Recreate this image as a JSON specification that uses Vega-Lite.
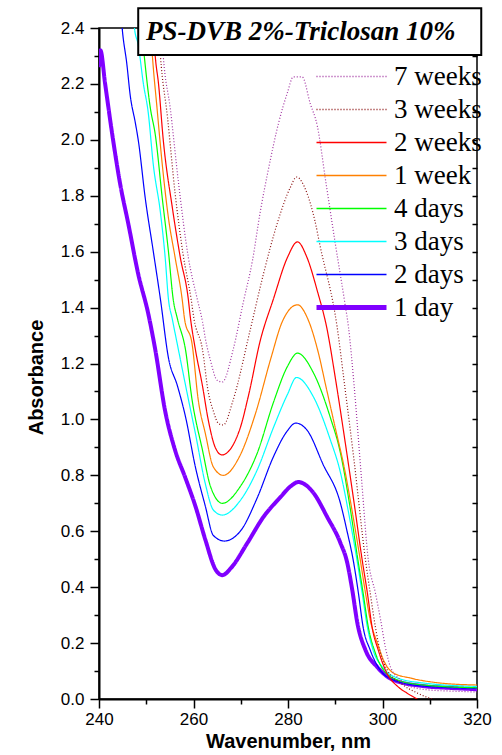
{
  "$schema": "https://vega.github.io/schema/vega-lite/v6.json",
  "width": 378,
  "height": 671,
  "autosize": "none",
  "padding": {"left": 99, "top": 28, "right": 25, "bottom": 56},
  "background": "white",
  "config": {
    "view": {"stroke": "black", "strokeWidth": 1.5},
    "axis": {"grid": false, "domainColor": "black", "tickColor": "black", "labelColor": "black", "titleColor": "black", "labelFont": "Liberation Sans", "titleFont": "Liberation Sans", "labelFontSize": 17, "titleFontSize": 20, "titleFontWeight": "bold", "domainWidth": 2, "tickWidth": 1.5}
  },
  "datasets": {
    "spectra": [
      {"series":"1 day","wavenumber":240.0,"absorbance":2.26},{"series":"1 day","wavenumber":240.3,"absorbance":2.32},{"series":"1 day","wavenumber":241.3,"absorbance":2.20},{"series":"1 day","wavenumber":242.8,"absorbance":2.02},{"series":"1 day","wavenumber":244.5,"absorbance":1.84},{"series":"1 day","wavenumber":246.2,"absorbance":1.70},{"series":"1 day","wavenumber":248.3,"absorbance":1.52},{"series":"1 day","wavenumber":250.4,"absorbance":1.38},{"series":"1 day","wavenumber":251.9,"absorbance":1.25},{"series":"1 day","wavenumber":254.0,"absorbance":1.03},{"series":"1 day","wavenumber":256.1,"absorbance":0.89},{"series":"1 day","wavenumber":258.3,"absorbance":0.79},{"series":"1 day","wavenumber":260.4,"absorbance":0.69},{"series":"1 day","wavenumber":262.5,"absorbance":0.57},{"series":"1 day","wavenumber":264.6,"absorbance":0.465},{"series":"1 day","wavenumber":266.1,"absorbance":0.443},{"series":"1 day","wavenumber":268.0,"absorbance":0.47},{"series":"1 day","wavenumber":271.4,"absorbance":0.558},{"series":"1 day","wavenumber":274.8,"absorbance":0.651},{"series":"1 day","wavenumber":278.4,"absorbance":0.722},{"series":"1 day","wavenumber":280.5,"absorbance":0.76},{"series":"1 day","wavenumber":282.2,"absorbance":0.776},{"series":"1 day","wavenumber":283.8,"absorbance":0.765},{"series":"1 day","wavenumber":285.4,"absorbance":0.737},{"series":"1 day","wavenumber":288.3,"absorbance":0.651},{"series":"1 day","wavenumber":291.1,"absorbance":0.558},{"series":"1 day","wavenumber":292.5,"absorbance":0.49},{"series":"1 day","wavenumber":293.6,"absorbance":0.39},{"series":"1 day","wavenumber":294.7,"absorbance":0.27},{"series":"1 day","wavenumber":296.4,"absorbance":0.175},{"series":"1 day","wavenumber":298.9,"absorbance":0.114},{"series":"1 day","wavenumber":302.3,"absorbance":0.068},{"series":"1 day","wavenumber":308.7,"absorbance":0.046},{"series":"1 day","wavenumber":314.0,"absorbance":0.04},{"series":"1 day","wavenumber":320.0,"absorbance":0.035},

      {"series":"2 days","wavenumber":244.0,"absorbance":2.62},{"series":"2 days","wavenumber":244.9,"absorbance":2.40},{"series":"2 days","wavenumber":245.9,"absorbance":2.27},{"series":"2 days","wavenumber":246.6,"absorbance":2.16},{"series":"2 days","wavenumber":247.7,"absorbance":2.06},{"series":"2 days","wavenumber":248.3,"absorbance":2.0},{"series":"2 days","wavenumber":249.8,"absorbance":1.79},{"series":"2 days","wavenumber":251.5,"absorbance":1.60},{"series":"2 days","wavenumber":253.0,"absorbance":1.43},{"series":"2 days","wavenumber":254.7,"absorbance":1.22},{"series":"2 days","wavenumber":256.6,"absorbance":1.12},{"series":"2 days","wavenumber":258.3,"absorbance":1.01},{"series":"2 days","wavenumber":260.4,"absorbance":0.83},{"series":"2 days","wavenumber":262.5,"absorbance":0.69},{"series":"2 days","wavenumber":264.2,"absorbance":0.585},{"series":"2 days","wavenumber":266.5,"absorbance":0.565},{"series":"2 days","wavenumber":269.9,"absorbance":0.60},{"series":"2 days","wavenumber":273.5,"absorbance":0.72},{"series":"2 days","wavenumber":276.9,"absorbance":0.866},{"series":"2 days","wavenumber":279.9,"absorbance":0.96},{"series":"2 days","wavenumber":281.6,"absorbance":0.987},{"series":"2 days","wavenumber":284.1,"absorbance":0.96},{"series":"2 days","wavenumber":287.4,"absorbance":0.84},{"series":"2 days","wavenumber":291.1,"absorbance":0.70},{"series":"2 days","wavenumber":292.5,"absorbance":0.60},{"series":"2 days","wavenumber":293.8,"absorbance":0.497},{"series":"2 days","wavenumber":294.9,"absorbance":0.379},{"series":"2 days","wavenumber":295.9,"absorbance":0.257},{"series":"2 days","wavenumber":297.4,"absorbance":0.175},{"series":"2 days","wavenumber":299.1,"absorbance":0.114},{"series":"2 days","wavenumber":302.3,"absorbance":0.068},{"series":"2 days","wavenumber":308.7,"absorbance":0.046},{"series":"2 days","wavenumber":320.0,"absorbance":0.038},

      {"series":"3 days","wavenumber":246.8,"absorbance":2.55},{"series":"3 days","wavenumber":247.5,"absorbance":2.40},{"series":"3 days","wavenumber":248.3,"absorbance":2.34},{"series":"3 days","wavenumber":249.4,"absorbance":2.20},{"series":"3 days","wavenumber":250.4,"absorbance":2.10},{"series":"3 days","wavenumber":251.5,"absorbance":1.91},{"series":"3 days","wavenumber":253.0,"absorbance":1.74},{"series":"3 days","wavenumber":254.0,"absorbance":1.58},{"series":"3 days","wavenumber":254.7,"absorbance":1.43},{"series":"3 days","wavenumber":255.5,"absorbance":1.36},{"series":"3 days","wavenumber":256.8,"absorbance":1.25},{"series":"3 days","wavenumber":258.7,"absorbance":1.09},{"series":"3 days","wavenumber":260.4,"absorbance":0.95},{"series":"3 days","wavenumber":262.5,"absorbance":0.77},{"series":"3 days","wavenumber":264.2,"absorbance":0.676},{"series":"3 days","wavenumber":266.1,"absorbance":0.658},{"series":"3 days","wavenumber":269.9,"absorbance":0.71},{"series":"3 days","wavenumber":273.5,"absorbance":0.82},{"series":"3 days","wavenumber":276.9,"absorbance":0.97},{"series":"3 days","wavenumber":279.9,"absorbance":1.09},{"series":"3 days","wavenumber":281.8,"absorbance":1.15},{"series":"3 days","wavenumber":285.4,"absorbance":1.08},{"series":"3 days","wavenumber":288.9,"absorbance":0.93},{"series":"3 days","wavenumber":291.1,"absorbance":0.81},{"series":"3 days","wavenumber":293.0,"absorbance":0.65},{"series":"3 days","wavenumber":294.6,"absorbance":0.497},{"series":"3 days","wavenumber":295.7,"absorbance":0.379},{"series":"3 days","wavenumber":296.8,"absorbance":0.257},{"series":"3 days","wavenumber":298.0,"absorbance":0.175},{"series":"3 days","wavenumber":300.0,"absorbance":0.114},{"series":"3 days","wavenumber":303.2,"absorbance":0.075},{"series":"3 days","wavenumber":308.7,"absorbance":0.057},{"series":"3 days","wavenumber":320.0,"absorbance":0.045},

      {"series":"4 days","wavenumber":248.3,"absorbance":2.60},{"series":"4 days","wavenumber":249.0,"absorbance":2.40},{"series":"4 days","wavenumber":249.4,"absorbance":2.33},{"series":"4 days","wavenumber":250.9,"absorbance":2.11},{"series":"4 days","wavenumber":251.9,"absorbance":2.02},{"series":"4 days","wavenumber":253.4,"absorbance":1.79},{"series":"4 days","wavenumber":254.7,"absorbance":1.60},{"series":"4 days","wavenumber":255.7,"absorbance":1.43},{"series":"4 days","wavenumber":256.6,"absorbance":1.36},{"series":"4 days","wavenumber":258.3,"absorbance":1.25},{"series":"4 days","wavenumber":259.7,"absorbance":1.07},{"series":"4 days","wavenumber":261.9,"absorbance":0.89},{"series":"4 days","wavenumber":263.6,"absorbance":0.76},{"series":"4 days","wavenumber":266.1,"absorbance":0.70},{"series":"4 days","wavenumber":269.9,"absorbance":0.76},{"series":"4 days","wavenumber":273.5,"absorbance":0.88},{"series":"4 days","wavenumber":276.9,"absorbance":1.06},{"series":"4 days","wavenumber":279.9,"absorbance":1.19},{"series":"4 days","wavenumber":282.0,"absorbance":1.237},{"series":"4 days","wavenumber":285.4,"absorbance":1.166},{"series":"4 days","wavenumber":288.9,"absorbance":1.01},{"series":"4 days","wavenumber":291.1,"absorbance":0.88},{"series":"4 days","wavenumber":293.0,"absorbance":0.70},{"series":"4 days","wavenumber":294.8,"absorbance":0.497},{"series":"4 days","wavenumber":295.9,"absorbance":0.379},{"series":"4 days","wavenumber":297.0,"absorbance":0.257},{"series":"4 days","wavenumber":298.5,"absorbance":0.164},{"series":"4 days","wavenumber":300.2,"absorbance":0.104},{"series":"4 days","wavenumber":303.2,"absorbance":0.068},{"series":"4 days","wavenumber":308.7,"absorbance":0.05},{"series":"4 days","wavenumber":320.0,"absorbance":0.04},

      {"series":"1 week","wavenumber":250.3,"absorbance":2.60},{"series":"1 week","wavenumber":250.9,"absorbance":2.40},{"series":"1 week","wavenumber":251.3,"absorbance":2.30},{"series":"1 week","wavenumber":252.3,"absorbance":2.11},{"series":"1 week","wavenumber":253.4,"absorbance":1.91},{"series":"1 week","wavenumber":254.7,"absorbance":1.72},{"series":"1 week","wavenumber":256.1,"absorbance":1.58},{"series":"1 week","wavenumber":257.6,"absorbance":1.43},{"series":"1 week","wavenumber":258.1,"absorbance":1.36},{"series":"1 week","wavenumber":259.7,"absorbance":1.27},{"series":"1 week","wavenumber":261.0,"absorbance":1.07},{"series":"1 week","wavenumber":262.5,"absorbance":0.95},{"series":"1 week","wavenumber":264.2,"absorbance":0.83},{"series":"1 week","wavenumber":266.3,"absorbance":0.80},{"series":"1 week","wavenumber":269.7,"absorbance":0.866},{"series":"1 week","wavenumber":273.1,"absorbance":1.02},{"series":"1 week","wavenumber":276.4,"absorbance":1.22},{"series":"1 week","wavenumber":278.8,"absorbance":1.35},{"series":"1 week","wavenumber":282.0,"absorbance":1.41},{"series":"1 week","wavenumber":284.3,"absorbance":1.355},{"series":"1 week","wavenumber":286.4,"absorbance":1.24},{"series":"1 week","wavenumber":288.0,"absorbance":1.12},{"series":"1 week","wavenumber":290.0,"absorbance":0.97},{"series":"1 week","wavenumber":292.0,"absorbance":0.82},{"series":"1 week","wavenumber":293.8,"absorbance":0.65},{"series":"1 week","wavenumber":295.3,"absorbance":0.497},{"series":"1 week","wavenumber":296.4,"absorbance":0.379},{"series":"1 week","wavenumber":297.4,"absorbance":0.283},{"series":"1 week","wavenumber":298.9,"absorbance":0.20},{"series":"1 week","wavenumber":300.2,"absorbance":0.14},{"series":"1 week","wavenumber":302.3,"absorbance":0.093},{"series":"1 week","wavenumber":305.9,"absorbance":0.075},{"series":"1 week","wavenumber":312.3,"absorbance":0.057},{"series":"1 week","wavenumber":320.0,"absorbance":0.05},

      {"series":"2 weeks","wavenumber":251.0,"absorbance":2.55},{"series":"2 weeks","wavenumber":251.5,"absorbance":2.40},{"series":"2 weeks","wavenumber":251.9,"absorbance":2.30},{"series":"2 weeks","wavenumber":252.6,"absorbance":2.20},{"series":"2 weeks","wavenumber":253.6,"absorbance":2.00},{"series":"2 weeks","wavenumber":255.5,"absorbance":1.76},{"series":"2 weeks","wavenumber":257.2,"absorbance":1.58},{"series":"2 weeks","wavenumber":258.9,"absorbance":1.43},{"series":"2 weeks","wavenumber":259.3,"absorbance":1.37},{"series":"2 weeks","wavenumber":260.4,"absorbance":1.25},{"series":"2 weeks","wavenumber":261.9,"absorbance":1.12},{"series":"2 weeks","wavenumber":263.1,"absorbance":1.00},{"series":"2 weeks","wavenumber":264.6,"absorbance":0.90},{"series":"2 weeks","wavenumber":266.0,"absorbance":0.873},{"series":"2 weeks","wavenumber":269.7,"absorbance":0.96},{"series":"2 weeks","wavenumber":271.7,"absorbance":1.09},{"series":"2 weeks","wavenumber":274.1,"absorbance":1.28},{"series":"2 weeks","wavenumber":276.9,"absorbance":1.43},{"series":"2 weeks","wavenumber":279.9,"absorbance":1.58},{"series":"2 weeks","wavenumber":282.0,"absorbance":1.635},{"series":"2 weeks","wavenumber":284.0,"absorbance":1.58},{"series":"2 weeks","wavenumber":286.2,"absorbance":1.46},{"series":"2 weeks","wavenumber":288.3,"absorbance":1.32},{"series":"2 weeks","wavenumber":290.0,"absorbance":1.15},{"series":"2 weeks","wavenumber":292.0,"absorbance":0.93},{"series":"2 weeks","wavenumber":294.0,"absorbance":0.70},{"series":"2 weeks","wavenumber":295.7,"absorbance":0.497},{"series":"2 weeks","wavenumber":296.8,"absorbance":0.379},{"series":"2 weeks","wavenumber":297.8,"absorbance":0.257},{"series":"2 weeks","wavenumber":299.1,"absorbance":0.175},{"series":"2 weeks","wavenumber":301.0,"absorbance":0.09},{"series":"2 weeks","wavenumber":303.2,"absorbance":0.045},{"series":"2 weeks","wavenumber":305.3,"absorbance":0.02},{"series":"2 weeks","wavenumber":307.3,"absorbance":0.0},{"series":"2 weeks","wavenumber":310.0,"absorbance":-0.03},{"series":"2 weeks","wavenumber":320.0,"absorbance":-0.06},

      {"series":"3 weeks","wavenumber":252.2,"absorbance":2.55},{"series":"3 weeks","wavenumber":252.6,"absorbance":2.40},{"series":"3 weeks","wavenumber":253.0,"absorbance":2.30},{"series":"3 weeks","wavenumber":254.5,"absorbance":2.08},{"series":"3 weeks","wavenumber":256.1,"absorbance":1.81},{"series":"3 weeks","wavenumber":257.8,"absorbance":1.59},{"series":"3 weeks","wavenumber":259.5,"absorbance":1.43},{"series":"3 weeks","wavenumber":260.1,"absorbance":1.36},{"series":"3 weeks","wavenumber":261.9,"absorbance":1.25},{"series":"3 weeks","wavenumber":263.1,"absorbance":1.10},{"series":"3 weeks","wavenumber":264.2,"absorbance":1.03},{"series":"3 weeks","wavenumber":265.3,"absorbance":0.985},{"series":"3 weeks","wavenumber":266.3,"absorbance":0.98},{"series":"3 weeks","wavenumber":268.4,"absorbance":1.07},{"series":"3 weeks","wavenumber":272.0,"absorbance":1.32},{"series":"3 weeks","wavenumber":274.8,"absorbance":1.52},{"series":"3 weeks","wavenumber":277.7,"absorbance":1.70},{"series":"3 weeks","wavenumber":280.5,"absorbance":1.83},{"series":"3 weeks","wavenumber":281.8,"absorbance":1.867},{"series":"3 weeks","wavenumber":284.0,"absorbance":1.81},{"series":"3 weeks","wavenumber":285.7,"absorbance":1.71},{"series":"3 weeks","wavenumber":286.8,"absorbance":1.62},{"series":"3 weeks","wavenumber":290.4,"absorbance":1.33},{"series":"3 weeks","wavenumber":292.0,"absorbance":1.12},{"series":"3 weeks","wavenumber":294.0,"absorbance":0.85},{"series":"3 weeks","wavenumber":296.4,"absorbance":0.497},{"series":"3 weeks","wavenumber":297.4,"absorbance":0.379},{"series":"3 weeks","wavenumber":298.5,"absorbance":0.257},{"series":"3 weeks","wavenumber":299.6,"absorbance":0.164},{"series":"3 weeks","wavenumber":301.0,"absorbance":0.104},{"series":"3 weeks","wavenumber":303.8,"absorbance":0.057},{"series":"3 weeks","wavenumber":307.4,"absorbance":0.021},{"series":"3 weeks","wavenumber":310.5,"absorbance":0.0},{"series":"3 weeks","wavenumber":315.0,"absorbance":-0.02},{"series":"3 weeks","wavenumber":320.0,"absorbance":-0.03},

      {"series":"7 weeks","wavenumber":252.8,"absorbance":2.55},{"series":"7 weeks","wavenumber":253.2,"absorbance":2.40},{"series":"7 weeks","wavenumber":253.6,"absorbance":2.30},{"series":"7 weeks","wavenumber":255.1,"absorbance":2.11},{"series":"7 weeks","wavenumber":256.8,"absorbance":1.85},{"series":"7 weeks","wavenumber":258.9,"absorbance":1.58},{"series":"7 weeks","wavenumber":260.8,"absorbance":1.43},{"series":"7 weeks","wavenumber":261.9,"absorbance":1.35},{"series":"7 weeks","wavenumber":262.5,"absorbance":1.29},{"series":"7 weeks","wavenumber":263.6,"absorbance":1.21},{"series":"7 weeks","wavenumber":265.0,"absorbance":1.14},{"series":"7 weeks","wavenumber":266.1,"absorbance":1.134},{"series":"7 weeks","wavenumber":268.4,"absorbance":1.25},{"series":"7 weeks","wavenumber":270.5,"absorbance":1.416},{"series":"7 weeks","wavenumber":272.5,"absorbance":1.57},{"series":"7 weeks","wavenumber":274.1,"absorbance":1.74},{"series":"7 weeks","wavenumber":275.8,"absorbance":1.89},{"series":"7 weeks","wavenumber":278.0,"absorbance":2.06},{"series":"7 weeks","wavenumber":279.9,"absorbance":2.17},{"series":"7 weeks","wavenumber":281.1,"absorbance":2.225},{"series":"7 weeks","wavenumber":283.0,"absorbance":2.225},{"series":"7 weeks","wavenumber":284.7,"absorbance":2.13},{"series":"7 weeks","wavenumber":286.2,"absorbance":2.05},{"series":"7 weeks","wavenumber":288.0,"absorbance":1.85},{"series":"7 weeks","wavenumber":290.0,"absorbance":1.63},{"series":"7 weeks","wavenumber":292.0,"absorbance":1.42},{"series":"7 weeks","wavenumber":292.8,"absorbance":1.33},{"series":"7 weeks","wavenumber":294.0,"absorbance":1.12},{"series":"7 weeks","wavenumber":295.5,"absorbance":0.80},{"series":"7 weeks","wavenumber":297.0,"absorbance":0.497},{"series":"7 weeks","wavenumber":298.5,"absorbance":0.379},{"series":"7 weeks","wavenumber":299.6,"absorbance":0.283},{"series":"7 weeks","wavenumber":300.6,"absorbance":0.186},{"series":"7 weeks","wavenumber":301.7,"absorbance":0.114},{"series":"7 weeks","wavenumber":303.8,"absorbance":0.068},{"series":"7 weeks","wavenumber":305.0,"absorbance":0.05},{"series":"7 weeks","wavenumber":310.0,"absorbance":0.032},{"series":"7 weeks","wavenumber":315.0,"absorbance":0.028},{"series":"7 weeks","wavenumber":320.0,"absorbance":0.025}
    ]
  },
  "resolve": {"axis": {"x": "independent", "y": "independent"}},
  "layer": [
    {
      "data": {"name": "spectra"},
      "mark": {"type": "line", "clip": true, "interpolate": "monotone"},
      "encoding": {
        "x": {"field": "wavenumber", "type": "quantitative", "scale": {"domain": [240, 320], "nice": false, "zero": false},
          "axis": {"orient": "bottom", "title": "Wavenumber, nm", "values": [240,250,260,270,280,290,300,310,320],
            "tickSize": {"condition": {"test": "datum.value % 20 === 0", "value": 9}, "value": 5},
            "labelExpr": "datum.value % 20 === 0 ? datum.label : ''", "labelPadding": 3, "titlePadding": 4, "labelFlush": false}},
        "y": {"field": "absorbance", "type": "quantitative", "scale": {"domain": [0, 2.4], "nice": false, "zero": false},
          "axis": {"orient": "left", "title": "Absorbance", "values": [0,0.1,0.2,0.3,0.4,0.5,0.6,0.7,0.8,0.9,1.0,1.1,1.2,1.3,1.4,1.5,1.6,1.7,1.8,1.9,2.0,2.1,2.2,2.3,2.4],
            "tickSize": {"condition": {"test": "round(datum.value*10) % 2 === 0", "value": 9}, "value": 5},
            "labelExpr": "round(datum.value*10) % 2 === 0 ? format(datum.value, '.1f') : ''", "labelPadding": 6, "titlePadding": 14, "titleY": 349, "labelFlush": false}},
        "color": {"field": "series", "type": "nominal",
          "scale": {"domain": ["7 weeks","3 weeks","2 weeks","1 week","4 days","3 days","2 days","1 day"],
                    "range": ["#A030A0","#8B1010","#FF0000","#FF8000","#00FF00","#00FFFF","#0000FF","#8000FF"]},
          "legend": {"orient": "none", "legendX": 239, "legendY": 35, "title": null, "padding": 0,
            "labelFont": "Liberation Serif", "labelFontSize": 27, "labelColor": "black", "labelOffset": 29,
            "symbolType": "M-5,0H5", "symbolSize": 196, "rowPadding": 5, "symbolStrokeWidth": 1.5,
            "encode": {"symbols": {"update": {"strokeWidth": {"signal": "datum.value === '1 day' ? 5 : 1.5"}}}}}},
        "strokeDash": {"field": "series", "type": "nominal",
          "scale": {"domain": ["7 weeks","3 weeks","2 weeks","1 week","4 days","3 days","2 days","1 day"],
                    "range": [[1,2],[1,2],[1,0],[1,0],[1,0],[1,0],[1,0],[1,0]]}},
        "strokeWidth": {"condition": {"test": "datum.series === '1 day'", "value": 4}, "value": 1.2}
      }
    },
    {
      "data": {"name": "spectra"},
      "mark": {"type": "point", "opacity": 0},
      "encoding": {
        "x": {"field": "wavenumber", "type": "quantitative", "axis": null},
        "y": {"field": "absorbance", "type": "quantitative",
          "axis": {"orient": "right", "title": null, "labels": false, "domain": false, "tickSize": 5, "offset": -5,
            "values": [0.1,0.2,0.3,0.4,0.5,0.6,0.7,0.8,0.9,1.0,1.1,1.2,1.3,1.4,1.5,1.6,1.7,1.8,1.9,2.0,2.1,2.2,2.3]}}
      }
    },
    {
      "data": {"values": [{}]},
      "mark": {"type": "rect", "fill": "white", "stroke": "black", "strokeWidth": 2, "clip": false},
      "encoding": {
        "x": {"datum": 248.3, "type": "quantitative", "axis": null},
        "x2": {"datum": 320.9},
        "y": {"datum": 2.303, "type": "quantitative", "axis": null},
        "y2": {"datum": 2.471}
      }
    },
    {
      "data": {"values": [{}]},
      "mark": {"type": "text", "text": "PS-DVB 2%-Triclosan 10%", "font": "Liberation Serif", "fontSize": 27, "fontWeight": "bold", "fontStyle": "italic", "align": "center", "baseline": "alphabetic", "color": "black", "clip": false},
      "encoding": {
        "x": {"datum": 282.7, "type": "quantitative", "axis": null},
        "y": {"datum": 2.357, "type": "quantitative", "axis": null}
      }
    }
  ]
}
